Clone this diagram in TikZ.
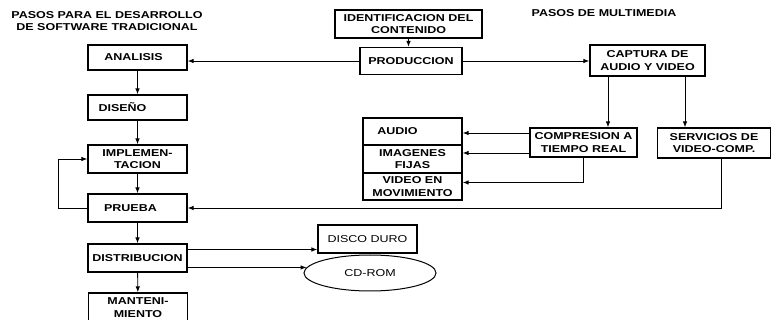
\documentclass[tikz,border=0pt]{standalone}
\usepackage{fontspec}
\newfontfamily\diagfont{Liberation Sans}[FakeStretch=1.25]
\usetikzlibrary{arrows.meta,shapes.geometric}

\begin{document}
\begin{tikzpicture}[x=1pt,y=-1pt,
  every node/.style={font=\diagfont\bfseries\fontsize{10}{12.5}\selectfont},
  box/.style={draw, line width=1.2pt, inner sep=0pt, align=center,
              minimum width=99pt, minimum height=28pt},
  lighttext/.style={font=\diagfont\mdseries\fontsize{10}{12.5}\selectfont},
  link/.style={line width=0.9pt, -{Latex[length=6pt,width=4.5pt]}}]
\clip (0,0) rectangle (771,320);

% headings
\node[align=center, font=\diagfont\bfseries\fontsize{10}{12}\selectfont]
  (titleA) at (107,21) {PASOS PARA EL DESARROLLO\\DE SOFTWARE TRADICIONAL};
\node (titleB) at (604,13.5) {PASOS DE MULTIMEDIA};

% traditional software steps
\node[box, minimum height=25pt] (analisis) at (137.5,57.5) {ANALISIS\hspace*{8pt}};
\node[box, minimum height=25pt] (diseno) at (137.5,107.5) {DISEÑO\hspace*{30pt}};
\node[box] (implem) at (137.5,159) {IMPLEMEN-\\TACION};
\node[box] (prueba) at (137.5,208) {PRUEBA\hspace*{14pt}};
\node[box] (distrib) at (137.5,258) {DISTRIBUCION};
\node[box, minimum height=29pt] (manten) at (138,307.5) {MANTENI-\\MIENTO};

% multimedia steps
\node[box, minimum width=147pt] (ident) at (408.5,24) {IDENTIFICACION DEL\\CONTENIDO};
\node[box, minimum width=102pt, minimum height=27pt] (produccion) at (411,61) {PRODUCCION};
\node[box, minimum width=115pt, minimum height=31pt] (captura) at (647.5,60.5) {CAPTURA DE\\AUDIO Y VIDEO};
\node[box, minimum width=107pt, minimum height=29pt] (compresion) at (583.5,142.5) {COMPRESION A\\TIEMPO REAL};
\node[box, minimum width=113pt, minimum height=30pt] (servicios) at (714,143) {SERVICIOS DE\\VIDEO-COMP.};

% media types
\node[box, minimum height=27pt] (audio) at (412.5,131.5) {AUDIO\hspace*{30pt}};
\node[box] (imagenes) at (412.5,159) {IMAGENES\\FIJAS};
\node[box, minimum height=27pt] (video) at (412.5,186.5) {VIDEO EN\\MOVIMIENTO};

% storage
\node[box, lighttext] (disco) at (367.5,239) {DISCO DURO};
\node[ellipse, draw, line width=1pt, inner sep=0pt, lighttext,
      minimum width=132pt, minimum height=36pt] (cdrom) at (370,273) {CD-ROM};

% traditional flow
\draw[link] (analisis) -- (diseno);
\draw[link] (diseno) -- (implem);
\draw[link] (implem) -- (prueba);
\draw[link] (prueba) -- (distrib);
\draw[link] (distrib) -- (manten);
\draw[link] (prueba.west) -- ++(-29,0) |- (implem.west);

% multimedia flow
\draw[link] (ident.south) -- (ident.south |- produccion.north);
\draw[link] (produccion.west) -- (produccion.west -| analisis.east);
\draw[link] (produccion.east) -- (produccion.east -| captura.west);
\draw[link] ([xshift=-39.5pt]captura.south) -- ([xshift=-39.5pt]captura.south |- compresion.north);
\draw[link] ([xshift=37.5pt]captura.south) -- ([xshift=37.5pt]captura.south |- servicios.north);
\draw[link] ([yshift=9.5pt]compresion.west) -- ([yshift=9.5pt]compresion.west -| audio.east);
\draw[link] ([yshift=-10.5pt]compresion.west) -- ([yshift=-10.5pt]compresion.west -| imagenes.east);
\draw[link] (compresion.south) |- ([yshift=4pt]video.east);
\draw[link] ([xshift=7pt]servicios.south) |- (prueba.east);

% distribution media
\draw[link] ([yshift=8.5pt]distrib.east) -- ([yshift=8.5pt]distrib.east -| disco.west);
\draw[link] (distrib.east |- cdrom.175.5) -- (cdrom.175.5);
\end{tikzpicture}
\end{document}
